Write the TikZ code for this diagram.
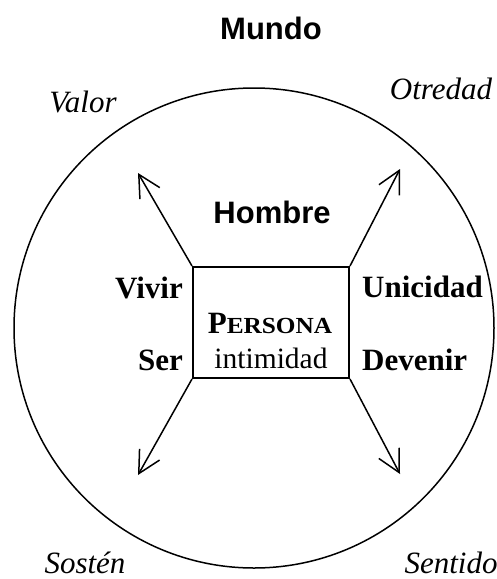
\documentclass[tikz,border=0pt]{standalone}
\usepackage{fontspec}
\setmainfont{Liberation Serif}
\newfontfamily\sansf{Liberation Sans}
\newfontfamily\scfont[FakeStretch=1.1]{Liberation Serif}
\usetikzlibrary{arrows.meta}
\tikzset{
  big/.style={font=\fontsize{31}{37}\selectfont, inner sep=0pt},
  titlelbl/.style={big, font=\sansf\bfseries\fontsize{31}{37}\selectfont},
  cornerlbl/.style={big, font=\itshape\fontsize{31}{37}\selectfont},
  sidelbl/.style={big, font=\bfseries\fontsize{31}{37}\selectfont},
  ray/.style={line width=1.5pt, -{Straight Barb[length=22pt,width=23pt,line width=1.5pt]}},
  boxshape/.style={draw, line width=2pt, minimum width=156pt, minimum height=111pt, inner sep=0pt}
}
\begin{document}
\begin{tikzpicture}[x=1pt,y=-1pt]
\useasboundingbox (0,0) rectangle (497,579);
\draw[line width=1.5pt] (254,328) circle[radius=240pt];
\node[boxshape] (box) at (271,322.5) {};
\node[titlelbl, anchor=base] (mundo) at (271,39) {Mundo};
\node[titlelbl, anchor=base] (hombre) at (272,223) {Hombre};
\node[cornerlbl, anchor=base] (valor) at (83,112) {Valor};
\node[cornerlbl, anchor=base] (otredad) at (441,99) {Otredad};
\node[cornerlbl, anchor=base] (sosten) at (85,573) {Sostén};
\node[cornerlbl, anchor=base] (sentido) at (451,573) {Sentido};
\node[sidelbl, anchor=base east] (vivir) at (183,298) {Vivir};
\node[sidelbl, anchor=base east] (ser) at (183,370) {Ser};
\node[sidelbl, anchor=base west] (unicidad) at (362,297) {Unicidad};
\node[sidelbl, anchor=base west] (devenir) at (362,370) {Devenir};
\node[sidelbl, anchor=base] (persona) at (270,333) {P{\scfont\bfseries\fontsize{23}{27}\selectfont ERSONA}};
\node[big, anchor=base, font=\fontsize{29.5}{35}\selectfont] (intim) at (271,368) {intimidad};
\coordinate (tnw) at (138,173);
\coordinate (tne) at (400,169);
\coordinate (tsw) at (138,475);
\coordinate (tse) at (400,474);
\draw[ray] (box.north west) -- (tnw);
\draw[ray] (box.north east) -- (tne);
\draw[ray] (box.south west) -- (tsw);
\draw[ray] (box.south east) -- (tse);
\end{tikzpicture}
\end{document}
